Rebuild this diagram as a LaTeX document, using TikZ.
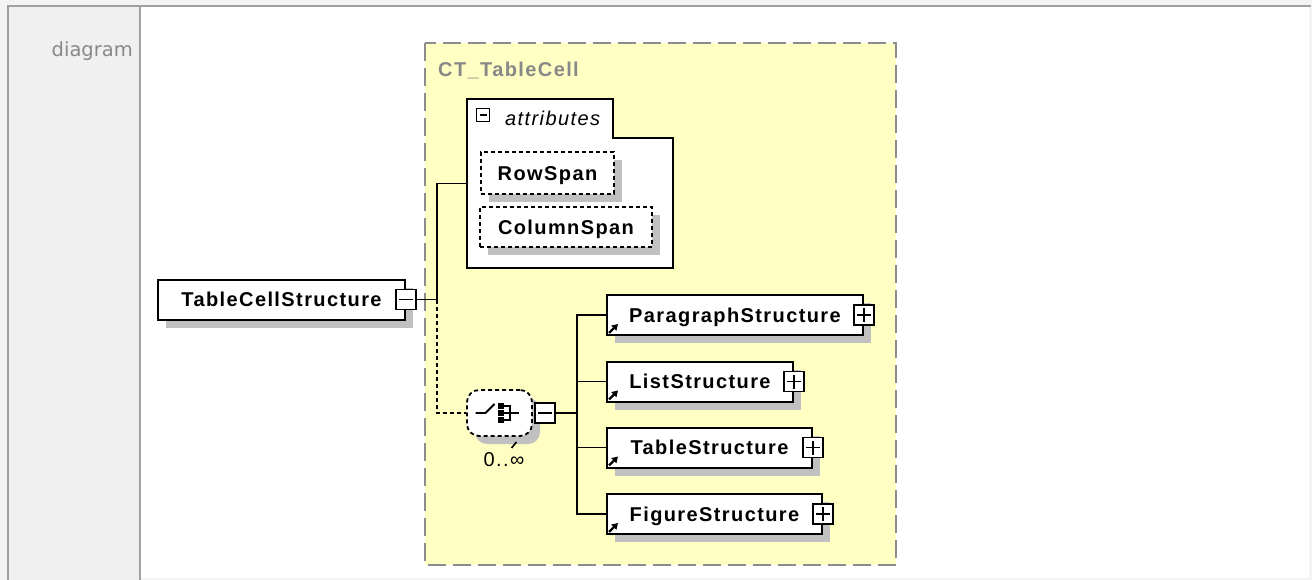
\documentclass[tikz,border=0pt]{standalone}
\usepackage{fontspec}
\setmainfont{Liberation Sans}
\newfontfamily\xsdfont[LetterSpace=7]{Liberation Sans}
\newfontfamily\capfont{DejaVu Sans}
\usepackage{xcolor}
\usepackage{tikz}
\usetikzlibrary{positioning, shadows, arrows.meta}

\definecolor{pagegray}{HTML}{F4F4F4}
\definecolor{cellgray}{HTML}{F0F0F0}
\definecolor{framegray}{HTML}{A0A0A0}
\definecolor{ctyellow}{HTML}{FFFFC4}
\definecolor{ctborder}{HTML}{8C8C8C}
\definecolor{shadowgray}{HTML}{C0C0C0}
\definecolor{labelgray}{HTML}{888888}

\tikzset{
    xsd shadow/.style={drop shadow={shadow xshift=8pt, shadow yshift=-8pt, fill=shadowgray, opacity=1}},
    elem/.style={draw, line width=2pt, fill=white, inner sep=0pt,
        minimum height=40pt, text height=14.5pt, text depth=0pt,
        font=\xsdfont\fontsize{20}{24}\selectfont\bfseries, xsd shadow},
    attritem/.style={elem, dash pattern=on 4pt off 3pt, line width=1.8pt},
    sqbox/.style={draw, line width=1.8pt, fill=white, minimum size=20pt, inner sep=0pt},
    minus/.style={sqbox, path picture={
        \draw[line width=1.8pt] ([xshift=3pt]path picture bounding box.west)
            -- ([xshift=-3pt]path picture bounding box.east);}},
    plus/.style={sqbox, path picture={
        \draw[line width=1.8pt] ([xshift=3pt]path picture bounding box.west)
            -- ([xshift=-3pt]path picture bounding box.east);
        \draw[line width=1.8pt] ([yshift=-3pt]path picture bounding box.north)
            -- ([yshift=3pt]path picture bounding box.south);}},
    choice/.style={draw, dash pattern=on 4pt off 3pt, line width=1.8pt, fill=white,
        rounded corners=12pt, minimum width=65pt, minimum height=46pt, xsd shadow},
    conn/.style={line width=1.8pt},
    optconn/.style={conn, dash pattern=on 4pt off 3pt},
    refarrow/.style={line width=2.2pt, -{Triangle[length=6pt, width=7pt]}},
}

\begin{document}
\begin{tikzpicture}[x=1pt, y=-1pt]
    % Nền và khung bảng
    \useasboundingbox (0,0) rectangle (1312,580);
    \fill[pagegray] (0,0) rectangle (1312,580);
    \fill[cellgray] (8,6) rectangle (139,580);
    \fill[white] (141,6) rectangle (1309,578);
    \draw[framegray, line width=2pt] (7,6) -- (1311,6);
    \draw[framegray, line width=2pt] (8,6) -- (8,580);
    \draw[framegray, line width=2pt] (140,6) -- (140,580);
    \node[font=\capfont\fontsize{19.5}{22}\selectfont, text=labelgray, anchor=base east, inner sep=0pt] (caption) at (133,57) {diagram};

    % Hộp CT_TableCell
    \draw[ctborder, fill=ctyellow, line width=2pt, dash pattern=on 18pt off 7pt] (425,43) rectangle (896,565);
    \node[font=\xsdfont\fontsize{20}{24}\selectfont\bfseries, text=labelgray, anchor=base west, inner sep=0pt] (ctname) at (438,77) {CT\_TableCell};

    % Nhóm thuộc tính
    \node[minimum width=206pt, minimum height=169pt, inner sep=0pt] (attr) at (570,183.5) {};
    \draw[line width=2pt, fill=white] (attr.north west) -- ++(146,0) -- ++(0,39)
        -| (attr.south east) -| (attr.north west) -- cycle;
    \node[minus, minimum size=13pt] (attrsq) at (483,115) {};
    \node[font=\xsdfont\fontsize{20}{24}\selectfont\itshape, anchor=base west, inner sep=0pt] (attrname) at (505,126) {attributes};
    \node[attritem, minimum width=133pt, minimum height=42pt] (rowspan) at (547.5,173) {RowSpan};
    \node[attritem, minimum width=172pt] (colspan) at (566,227) {ColumnSpan};

    % Phần tử gốc
    \node[elem, minimum width=247pt] (tcs) at (281.5,299.5) {TableCellStructure};
    \node[minus] (tcssq) at (tcs.east) {};
    \coordinate (split) at (437,299.5);
    \draw[conn] (tcssq) -- (split) |- (attr.west);

    % Nhóm lựa chọn
    \node[choice] (ch) at (499.5,413) {};
    \draw[optconn] (split) |- (ch.west);
    \draw[line width=1.8pt] ([xshift=-24pt]ch.center) -- ++(10,0) -- ++(9,-9);
    \foreach \dy in {-7,0,7} {
        \fill ([shift={(-1.5,\dy-2.75)}]ch.center) rectangle ++(5.5,5.5);
        \draw[line width=1.8pt] ([shift={(4,\dy)}]ch.center) -- ++(7,0);
    }
    \draw[line width=1.8pt] ([shift={(10.5,-7.9)}]ch.center) -- ++(0,15.8);
    \draw[line width=1.8pt] ([xshift=10.5pt]ch.center) -- ++(8.5,0);
    \draw[line width=1.6pt] ([shift={(12,35)}]ch.center) -- ++(5,-6);
    \node[minus] (chsq) at (545,413) {};
    \node[font=\xsdfont\fontsize{20}{24}\selectfont, inner sep=0pt] (occ) at (504,460) {0..∞};
    \coordinate (fork) at (577,413);
    \draw[conn] (chsq) -- (fork);

    % Các phần tử con
    \node[elem, minimum width=256pt] (para) at (735,315) {ParagraphStructure};
    \node[elem, minimum width=186pt] (list) at (700,381.5) {ListStructure};
    \node[elem, minimum width=205pt] (table) at (709.5,447.5) {TableStructure};
    \node[elem, minimum width=215pt] (figure) at (714.5,514) {FigureStructure};
    \foreach \n in {para,list,table,figure} {
        \draw[conn] (fork) |- (\n.west);
        \draw[refarrow] ([shift={(3,-3)}]\n.south west) -- ++(9,-9);
        \node[plus] (\n sq) at (\n.east) {};
    }
\end{tikzpicture}
\end{document}
